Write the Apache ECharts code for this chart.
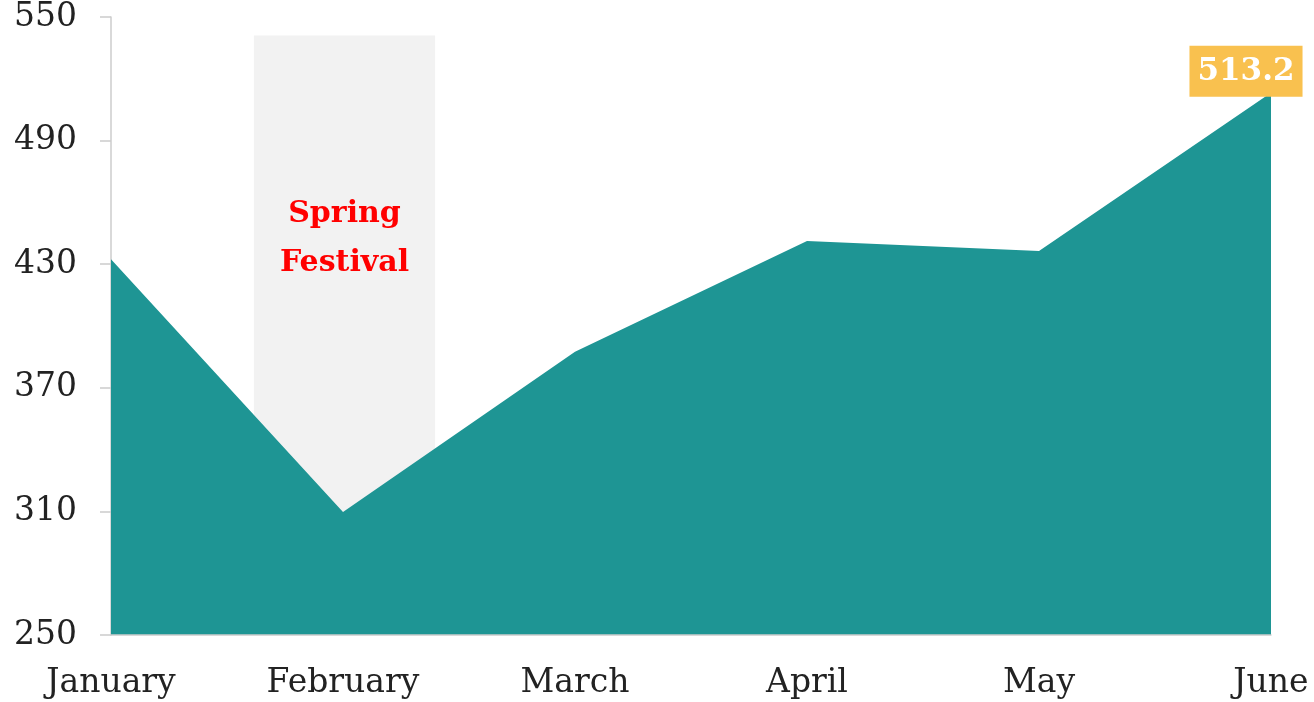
<!DOCTYPE html>
<html>
<head>
<meta charset="utf-8">
<script src="https://cdn.jsdelivr.net/npm/echarts@6/dist/echarts.min.js"></script>
<style>
  html, body { margin: 0; padding: 0; background: #fff; }
  #chart { width: 1314px; height: 702px; }
</style>
</head>
<body>
<div id="chart"></div>
<script>
// Monthly values, January to June
const months = ['January', 'February', 'March', 'April', 'May', 'June'];
const values = [432.4, 309.7, 387.5, 441.3, 436.4, 513.2];

// Value axis range and step
const yMin = 250;
const yMax = 550;
const yStep = 60;

// Holiday band (in month-index units on the hidden value axis) and its label
const festivalName = 'Spring\nFestival';
const festivalFrom = 0.616;
const festivalTo = 1.397;
const festivalTop = 541;

const serif = 'Georgia, "DejaVu Serif", serif';
const lastIdx = values.length - 1;

const chart = echarts.init(document.getElementById('chart'));
chart.setOption({
  animation: false,
  backgroundColor: '#ffffff',
  grid: { left: 111, right: 43, top: 17, bottom: 67 },
  xAxis: [
    {
      type: 'category',
      data: months,
      boundaryGap: false,
      axisLine: { show: true, lineStyle: { color: '#cccccc', width: 1.5 } },
      axisTick: { show: false },
      axisLabel: { color: '#222222', fontFamily: serif, fontSize: 33, margin: 32 },
      splitLine: { show: false },
      z: 5
    },
    {
      type: 'value',
      min: 0,
      max: months.length - 1,
      show: false
    }
  ],
  yAxis: {
    type: 'value',
    min: yMin,
    max: yMax,
    interval: yStep,
    axisLine: { show: true, lineStyle: { color: '#cccccc', width: 1.5 } },
    axisTick: { show: true, length: 11, lineStyle: { color: '#cccccc', width: 1.5 } },
    axisLabel: { color: '#222222', fontFamily: serif, fontSize: 33, margin: 34, padding: [5, 0, 0, 0] },
    splitLine: { show: false }
  },
  series: [
    {
      // carries the shaded holiday band
      type: 'line',
      xAxisIndex: 1,
      data: [[0, yMin]],
      symbol: 'none',
      lineStyle: { opacity: 0 },
      silent: true,
      z: 1,
      markArea: {
        silent: true,
        itemStyle: { color: '#f2f2f2' },
        label: {
          show: true,
          position: 'insideTop',
          distance: 154,
          formatter: festivalName,
          color: '#ff0000',
          fontFamily: serif,
          fontWeight: 'bold',
          fontSize: 30,
          lineHeight: 49,
          align: 'center'
        },
        data: [[
          { xAxis: festivalFrom, yAxis: festivalTop },
          { xAxis: festivalTo, yAxis: yMin }
        ]]
      }
    },
    {
      type: 'line',
      data: values,
      symbol: 'circle',
      symbolSize: 0,
      showSymbol: true,
      lineStyle: { width: 0 },
      areaStyle: { color: '#1e9594', opacity: 1, origin: 'start' },
      z: 3,
      markPoint: {
        symbol: 'circle',
        symbolSize: 0,
        data: [{ coord: [lastIdx, values[lastIdx]], value: values[lastIdx] }],
        label: {
          show: true,
          position: 'top',
          distance: 0,
          offset: [-25, 4],
          formatter: '{c}',
          color: '#ffffff',
          fontFamily: serif,
          fontWeight: 'bold',
          fontSize: 31,
          backgroundColor: '#f9c14f',
          padding: [11, 8, 9, 8]
        }
      }
    }
  ]
});
</script>
</body>
</html>
